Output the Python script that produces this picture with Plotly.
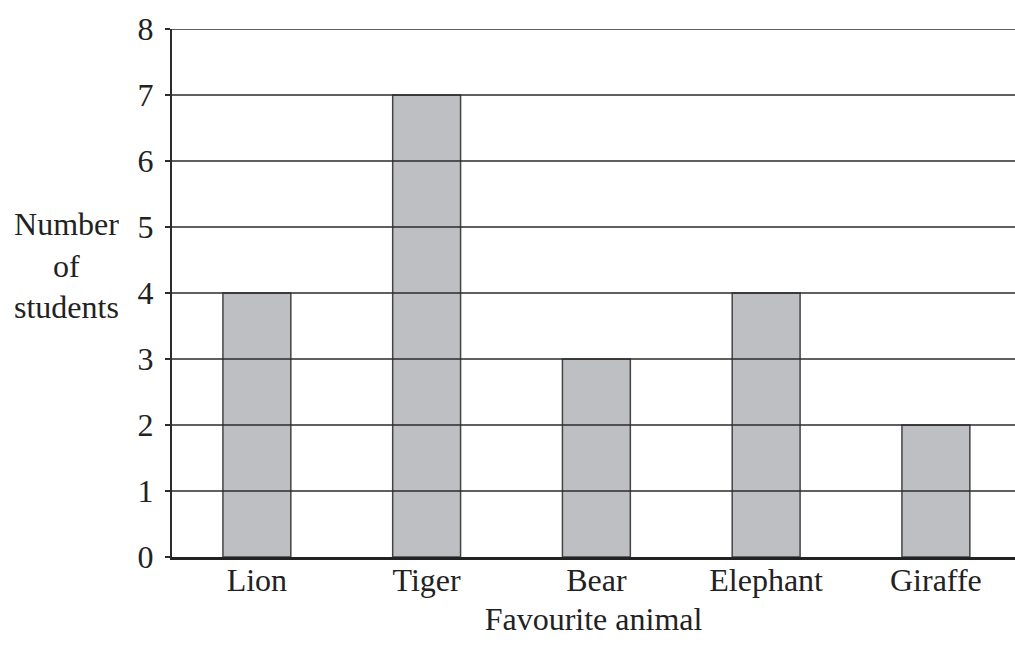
import plotly.graph_objects as go

animals = ["Lion", "Tiger", "Bear", "Elephant", "Giraffe"]
students = [4, 7, 3, 4, 2]
y_ticks = [0, 1, 2, 3, 4, 5, 6, 7, 8]

FONT = "Liberation Serif"
FS = 32
LINE = "#2b2b2b"

fig = go.Figure()
fig.add_trace(go.Bar(
    x=animals, y=students, width=0.4,
    marker=dict(color="#bebfc2", line=dict(color="#444444", width=1.5)),
    showlegend=False, hoverinfo="skip",
))

shapes = []
for t in y_ticks[1:]:
    shapes.append(dict(type="line", xref="paper", yref="y", x0=0, x1=1, y0=t, y1=t,
                       line=dict(color=LINE, width=1.5), layer="above"))

fig.update_layout(
    width=1015, height=645,
    margin=dict(l=172, r=0, t=29, b=88),
    paper_bgcolor="white", plot_bgcolor="white",
    font=dict(family=FONT, size=FS, color="#222222"),
    shapes=shapes,
    xaxis=dict(
        range=[-0.5, 4.466], showgrid=False, zeroline=False,
        showline=True, linecolor="#222222", linewidth=2.5,
        ticks="", tickfont=dict(family=FONT, size=FS), ticklabelstandoff=-7,
        title=dict(text="Favourite animal", font=dict(family=FONT, size=FS), standoff=11),
        layer="above traces",
    ),
    yaxis=dict(
        range=[0, 8], tickvals=y_ticks, showgrid=False, zeroline=False,
        showline=True, linecolor=LINE, linewidth=2,
        ticks="outside", ticklen=5, tickcolor=LINE, tickwidth=1.5,
        tickfont=dict(family=FONT, size=FS), ticklabelstandoff=5,
        layer="above traces",
    ),
    annotations=[dict(
        text="Number<br>of<br>students", xref="paper", yref="paper",
        x=-0.1246, y=0.553, xanchor="center", yanchor="middle",
        showarrow=False, align="center", font=dict(size=FS, family=FONT, color="#222222"),
    )],
)

fig.write_html(
    "out.html",
    config={"displayModeBar": False},
    post_script="document.body.style.margin='0';document.body.style.overflow='hidden';",
)
